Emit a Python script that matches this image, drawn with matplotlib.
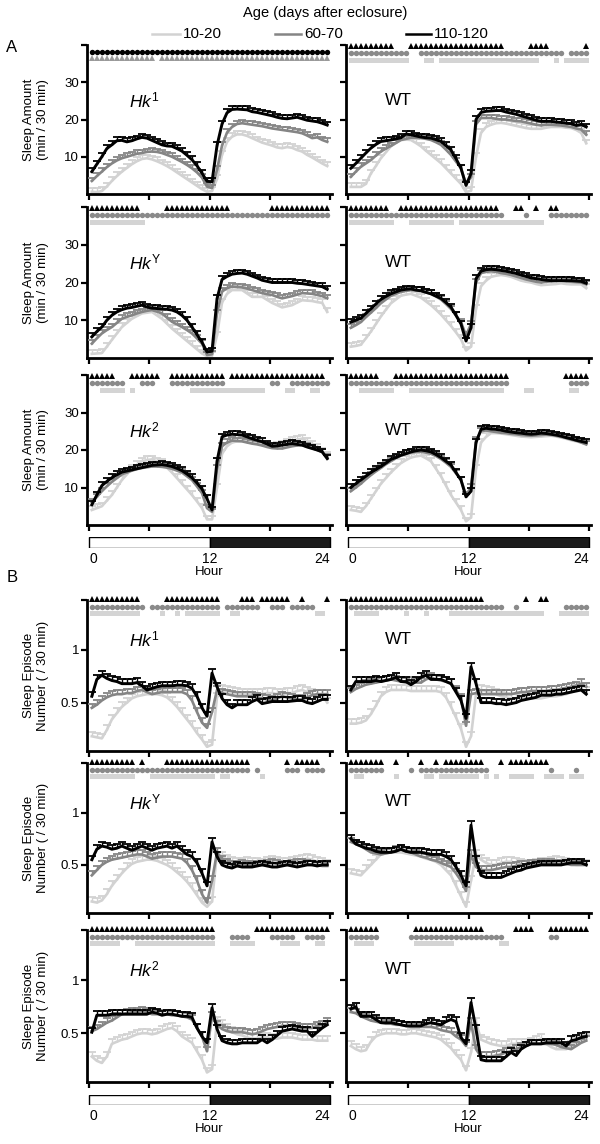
import numpy as np
import matplotlib.pyplot as plt
from matplotlib.lines import Line2D

plt.rcParams['font.family'] = ['Liberation Sans', 'DejaVu Sans']
plt.rcParams['mathtext.fontset'] = 'custom'
plt.rcParams['mathtext.rm'] = 'Liberation Sans'
plt.rcParams['mathtext.it'] = 'Liberation Sans:italic'

# 30 min bins over the 24 h day
hours = np.arange(48) * 0.5 + 0.25
ages = ['10-20', '60-70', '110-120']
age_colors = ['#d2d2d2', '#858585', '#000000']

# ---------------- A: sleep amount (min / 30 min) ----------------
a_hk1_young = [0.6, 0.5, 0.8, 2.0, 3.5, 4.8, 6.0, 7.0, 8.0, 8.8, 9.4, 9.6, 9.3, 8.8, 8.2, 7.5,
               6.7, 5.8, 4.9, 4.0, 3.1, 2.2, 1.3, 0.6, 0.8, 4.0, 10.5, 14.0, 15.4, 16.0, 16.0, 15.6,
               15.0, 14.4, 13.8, 13.4, 13.0, 12.5, 12.3, 12.6, 12.4, 11.8, 11.4, 10.5, 9.8, 9.0, 8.2, 7.5]
a_hk1_mid = [3.5, 4.8, 6.0, 7.2, 8.2, 9.0, 9.6, 10.0, 10.4, 10.8, 11.0, 11.3, 11.4, 11.3, 11.0, 10.5,
             10.0, 9.3, 8.6, 7.8, 6.9, 5.8, 4.4, 2.0, 1.6, 6.5, 13.0, 16.5, 18.0, 18.8, 19.0, 18.8,
             18.6, 18.4, 18.2, 17.9, 17.6, 17.4, 17.2, 17.0, 16.8, 16.6, 16.3, 15.7, 15.0, 15.2, 14.5, 14.0]
a_hk1_old = [6.0, 8.0, 10.0, 12.2, 13.2, 14.3, 14.4, 14.0, 14.3, 14.8, 15.2, 15.0, 14.4, 13.8, 13.2, 12.9,
             12.8, 12.2, 11.5, 10.4, 9.2, 7.6, 5.6, 3.4, 3.3, 13.0, 18.8, 21.8, 22.7, 22.8, 22.7, 22.6,
             22.1, 21.9, 21.6, 21.3, 21.0, 20.6, 20.3, 20.2, 20.4, 20.6, 20.2, 19.8, 19.6, 19.4, 19.0, 18.5]

a_wt1_young = [1.9, 1.9, 1.9, 2.7, 5.5, 7.5, 9.6, 11.2, 12.8, 13.7, 14.5, 14.6, 14.5, 13.7, 12.8, 11.6,
               10.5, 9.4, 8.3, 6.9, 5.5, 4.1, 2.7, 0.5, 0.9, 10.0, 16.4, 18.0, 18.6, 19.0, 19.1, 18.9,
               18.6, 18.3, 18.0, 17.7, 17.5, 17.5, 17.5, 17.8, 18.0, 18.0, 18.0, 17.8, 17.7, 17.2, 16.4, 13.6]
a_wt1_mid = [4.6, 6.0, 7.3, 8.2, 9.1, 10.3, 11.4, 12.2, 12.9, 13.7, 14.5, 14.8, 15.1, 15.1, 15.0, 14.8,
             14.5, 13.9, 13.2, 11.9, 10.5, 8.7, 6.9, 2.7, 4.5, 18.7, 20.4, 20.4, 20.4, 20.2, 20.0, 20.0,
             19.8, 19.6, 19.5, 19.2, 18.9, 18.6, 18.4, 18.6, 18.6, 18.5, 18.4, 18.2, 18.0, 17.6, 17.3, 15.9]
a_wt1_old = [6.9, 8.2, 9.6, 11.0, 12.3, 13.3, 14.1, 14.3, 14.5, 14.8, 15.1, 16.1, 15.9, 15.6, 15.3, 15.1,
             15.0, 14.6, 14.1, 13.0, 11.8, 9.5, 6.9, 2.3, 5.5, 20.0, 21.9, 22.2, 22.3, 22.4, 22.4, 22.0,
             21.7, 21.4, 21.0, 20.6, 20.2, 19.8, 19.5, 19.5, 19.5, 19.3, 19.2, 19.0, 18.9, 18.4, 18.7, 18.0]

a_hky_young = [1.1, 1.2, 1.3, 3.0, 4.8, 6.5, 8.2, 9.3, 10.4, 11.1, 11.8, 12.0, 12.2, 11.3, 10.4, 9.1,
               7.8, 6.7, 5.6, 4.5, 3.4, 2.3, 1.2, 0.5, 0.6, 6.0, 14.7, 17.0, 18.0, 18.0, 18.0, 17.1,
               16.2, 16.2, 16.2, 15.4, 14.6, 14.0, 13.4, 13.7, 14.0, 14.7, 15.3, 15.2, 15.1, 14.8, 14.6, 12.2]
a_hky_mid = [3.8, 5.2, 6.5, 7.4, 8.2, 9.3, 10.4, 10.9, 11.3, 11.8, 12.2, 12.5, 12.7, 12.3, 11.8, 10.7,
             9.6, 8.9, 8.2, 7.4, 6.5, 5.2, 3.8, 0.8, 1.0, 11.8, 17.6, 18.5, 18.9, 18.8, 18.7, 18.4,
             18.0, 17.6, 17.2, 16.9, 16.7, 16.2, 15.8, 16.1, 16.4, 16.8, 17.2, 17.1, 17.0, 16.7, 16.4, 15.8]
a_hky_old = [5.6, 7.0, 8.2, 10.0, 11.3, 12.2, 12.8, 13.2, 13.4, 13.7, 14.0, 13.5, 13.2, 13.1, 13.0, 12.9,
             12.7, 12.2, 11.3, 10.0, 8.2, 6.2, 4.2, 1.6, 1.8, 15.7, 20.8, 21.6, 22.2, 22.4, 22.5, 22.2,
             21.7, 21.2, 20.6, 20.3, 20.0, 20.0, 20.0, 20.0, 20.0, 19.8, 19.7, 19.5, 19.3, 19.1, 18.9, 18.2]

a_wt2_young = [3.0, 3.2, 3.5, 5.2, 7.0, 9.0, 11.0, 12.8, 14.5, 15.5, 16.5, 16.8, 17.0, 16.5, 16.0, 15.0,
               14.0, 12.8, 11.5, 10.0, 8.5, 6.8, 5.0, 2.0, 3.0, 13.0, 19.0, 20.5, 21.5, 21.8, 22.0, 21.8,
               21.5, 21.0, 20.5, 20.2, 20.0, 19.6, 19.3, 19.4, 19.5, 19.6, 19.8, 19.6, 19.5, 19.5, 19.5, 18.5]
a_wt2_mid = [8.0, 8.7, 9.5, 10.8, 12.0, 13.2, 14.5, 15.5, 16.5, 17.0, 17.5, 17.8, 18.0, 17.9, 17.8, 17.4,
             17.0, 16.3, 15.5, 14.3, 13.0, 11.3, 9.5, 6.0, 9.0, 20.0, 22.5, 22.8, 23.0, 22.8, 22.5, 22.3,
             22.0, 21.6, 21.2, 20.8, 20.5, 20.2, 20.0, 20.2, 20.3, 20.4, 20.5, 20.3, 20.2, 20.1, 20.0, 19.5]
a_wt2_old = [9.5, 10.0, 10.5, 11.8, 13.0, 14.3, 15.5, 16.3, 17.0, 17.5, 18.0, 18.2, 18.3, 18.0, 17.8, 17.4,
             17.0, 16.4, 15.8, 14.7, 13.5, 11.3, 9.0, 4.5, 8.0, 21.0, 23.0, 23.4, 23.5, 23.4, 23.2, 23.0,
             22.7, 22.4, 22.0, 21.6, 21.2, 21.0, 20.8, 20.6, 20.5, 20.5, 20.5, 20.5, 20.5, 20.4, 20.3, 19.8]

a_hk2_young = [4.0, 4.5, 5.0, 6.5, 8.0, 10.0, 12.0, 13.5, 15.0, 16.0, 17.0, 17.3, 17.5, 17.0, 16.5, 15.3,
               14.0, 12.5, 11.0, 9.5, 8.0, 6.3, 4.5, 1.5, 1.5, 10.0, 19.0, 21.0, 22.0, 22.3, 22.5, 22.3,
               22.0, 21.8, 21.5, 21.2, 21.0, 21.2, 21.5, 22.0, 22.5, 22.8, 23.0, 22.3, 21.5, 20.5, 19.5, 18.5]
a_hk2_mid = [6.0, 7.5, 9.0, 10.3, 11.5, 12.5, 13.5, 14.0, 14.5, 14.9, 15.2, 15.4, 15.6, 15.6, 15.5, 15.3,
             15.0, 14.5, 14.0, 13.0, 12.0, 10.3, 8.5, 4.5, 3.5, 15.0, 21.0, 22.0, 22.5, 22.4, 22.3, 22.0,
             21.7, 21.5, 21.2, 20.8, 20.5, 20.4, 20.4, 20.7, 21.0, 21.2, 21.3, 20.9, 20.5, 20.0, 19.5, 18.0]
a_hk2_old = [5.4, 8.0, 10.5, 11.6, 12.6, 13.4, 14.1, 14.4, 14.7, 15.0, 15.3, 15.6, 15.9, 16.0, 16.1, 15.9,
             15.6, 15.1, 14.5, 13.6, 12.6, 11.2, 9.6, 7.0, 4.0, 17.0, 23.5, 24.0, 24.2, 24.1, 24.0, 23.5,
             23.0, 22.6, 22.2, 21.6, 21.0, 21.1, 21.3, 21.5, 21.7, 21.5, 21.3, 20.8, 20.4, 20.0, 19.5, 17.7]

a_wt3_young = [4.0, 3.8, 3.5, 5.0, 7.0, 9.0, 11.0, 12.5, 14.0, 15.3, 16.5, 17.3, 18.0, 18.3, 18.5, 17.8,
               17.0, 15.0, 13.0, 10.5, 8.0, 6.0, 4.0, 1.0, 2.0, 15.0, 22.0, 23.5, 24.5, 24.5, 24.4, 24.2,
               24.0, 23.8, 23.6, 23.5, 23.4, 23.5, 23.6, 23.7, 23.8, 23.6, 23.3, 23.0, 22.6, 22.3, 22.0, 21.5]
a_wt3_mid = [9.0, 10.0, 11.0, 12.2, 13.3, 14.3, 15.2, 16.2, 17.0, 17.8, 18.5, 19.0, 19.3, 19.5, 19.5, 19.3,
             19.0, 18.4, 17.6, 16.6, 15.5, 13.8, 12.0, 8.0, 10.0, 22.5, 25.0, 25.2, 25.0, 24.8, 24.6, 24.5,
             24.3, 24.2, 24.0, 23.9, 23.8, 23.9, 24.0, 24.1, 24.0, 23.8, 23.5, 23.2, 22.8, 22.5, 22.0, 21.5]
a_wt3_old = [10.0, 11.0, 12.0, 13.0, 14.0, 14.8, 15.6, 16.5, 17.5, 18.0, 18.6, 19.0, 19.5, 19.8, 20.0, 19.8,
             19.5, 18.8, 18.0, 17.0, 16.0, 14.0, 12.0, 7.5, 9.0, 22.0, 25.5, 25.8, 25.6, 25.5, 25.3, 25.0,
             24.8, 24.6, 24.5, 24.3, 24.2, 24.3, 24.5, 24.4, 24.2, 24.0, 23.7, 23.3, 23.0, 22.6, 22.3, 22.0]

# ---------------- B: sleep episode number (/ 30 min) ----------------
b_hk1_young = [0.18, 0.17, 0.16, 0.24, 0.34, 0.40, 0.46, 0.50, 0.54, 0.56, 0.57, 0.58, 0.58, 0.58, 0.57, 0.55,
               0.51, 0.46, 0.40, 0.34, 0.28, 0.21, 0.15, 0.08, 0.10, 0.55, 0.62, 0.61, 0.60, 0.59, 0.58, 0.58,
               0.58, 0.58, 0.58, 0.59, 0.59, 0.58, 0.58, 0.59, 0.59, 0.61, 0.62, 0.60, 0.58, 0.57, 0.57, 0.50]
b_hk1_mid = [0.45, 0.48, 0.52, 0.55, 0.57, 0.58, 0.58, 0.59, 0.59, 0.61, 0.62, 0.60, 0.58, 0.59, 0.60, 0.60,
             0.60, 0.60, 0.60, 0.58, 0.52, 0.41, 0.31, 0.26, 0.41, 0.62, 0.59, 0.58, 0.57, 0.56, 0.56, 0.56,
             0.56, 0.55, 0.54, 0.53, 0.52, 0.54, 0.56, 0.55, 0.54, 0.53, 0.53, 0.55, 0.57, 0.58, 0.58, 0.58]
b_hk1_old = [0.56, 0.72, 0.76, 0.73, 0.71, 0.70, 0.68, 0.68, 0.68, 0.69, 0.66, 0.62, 0.635, 0.65, 0.66, 0.66,
             0.66, 0.665, 0.665, 0.66, 0.635, 0.56, 0.45, 0.37, 0.78, 0.65, 0.54, 0.48, 0.45, 0.48, 0.48, 0.48,
             0.51, 0.53, 0.49, 0.50, 0.51, 0.51, 0.51, 0.51, 0.515, 0.52, 0.52, 0.50, 0.49, 0.51, 0.53, 0.53]

b_wt1_young = [0.30, 0.30, 0.31, 0.33, 0.39, 0.47, 0.56, 0.60, 0.62, 0.62, 0.62, 0.62, 0.61, 0.61, 0.61, 0.61,
               0.61, 0.61, 0.60, 0.55, 0.46, 0.36, 0.25, 0.08, 0.18, 0.58, 0.62, 0.61, 0.60, 0.58, 0.56, 0.55,
               0.54, 0.54, 0.55, 0.55, 0.54, 0.54, 0.54, 0.55, 0.56, 0.56, 0.57, 0.58, 0.60, 0.62, 0.63, 0.60]
b_wt1_mid = [0.60, 0.63, 0.65, 0.67, 0.68, 0.69, 0.70, 0.71, 0.72, 0.71, 0.70, 0.69, 0.70, 0.69, 0.69, 0.72,
             0.74, 0.72, 0.71, 0.70, 0.68, 0.62, 0.54, 0.28, 0.58, 0.59, 0.58, 0.58, 0.58, 0.58, 0.58, 0.58,
             0.58, 0.59, 0.60, 0.60, 0.61, 0.61, 0.61, 0.61, 0.62, 0.62, 0.63, 0.64, 0.65, 0.66, 0.68, 0.65]
b_wt1_old = [0.62, 0.70, 0.70, 0.70, 0.70, 0.71, 0.70, 0.71, 0.72, 0.74, 0.70, 0.70, 0.67, 0.70, 0.74, 0.76,
             0.72, 0.72, 0.72, 0.70, 0.68, 0.60, 0.52, 0.35, 0.84, 0.68, 0.50, 0.50, 0.50, 0.49, 0.49, 0.48,
             0.49, 0.50, 0.52, 0.53, 0.54, 0.55, 0.57, 0.57, 0.57, 0.58, 0.58, 0.59, 0.60, 0.61, 0.62, 0.58]

b_hky_young = [0.15, 0.14, 0.16, 0.22, 0.30, 0.36, 0.42, 0.47, 0.51, 0.53, 0.54, 0.55, 0.55, 0.54, 0.52, 0.50,
               0.47, 0.43, 0.39, 0.34, 0.28, 0.21, 0.14, 0.10, 0.15, 0.62, 0.58, 0.55, 0.53, 0.52, 0.52, 0.53,
               0.52, 0.52, 0.51, 0.53, 0.54, 0.53, 0.52, 0.52, 0.53, 0.54, 0.55, 0.56, 0.55, 0.53, 0.52, 0.50]
b_hky_mid = [0.40, 0.45, 0.50, 0.53, 0.55, 0.56, 0.57, 0.58, 0.59, 0.60, 0.60, 0.58, 0.56, 0.57, 0.58, 0.58,
             0.58, 0.57, 0.56, 0.52, 0.45, 0.35, 0.22, 0.14, 0.35, 0.62, 0.55, 0.52, 0.50, 0.50, 0.51, 0.50,
             0.50, 0.50, 0.50, 0.51, 0.52, 0.51, 0.50, 0.50, 0.51, 0.52, 0.52, 0.51, 0.50, 0.50, 0.49, 0.49]
b_hky_old = [0.55, 0.65, 0.68, 0.67, 0.65, 0.66, 0.68, 0.66, 0.64, 0.66, 0.68, 0.66, 0.64, 0.66, 0.67, 0.68,
             0.66, 0.68, 0.64, 0.60, 0.58, 0.52, 0.42, 0.30, 0.72, 0.58, 0.50, 0.48, 0.47, 0.49, 0.48, 0.48,
             0.48, 0.49, 0.50, 0.49, 0.48, 0.48, 0.49, 0.50, 0.49, 0.48, 0.49, 0.50, 0.50, 0.49, 0.50, 0.50]

b_wt2_young = [0.42, 0.41, 0.40, 0.45, 0.50, 0.55, 0.60, 0.61, 0.62, 0.62, 0.62, 0.61, 0.60, 0.59, 0.58, 0.56,
               0.55, 0.53, 0.50, 0.45, 0.40, 0.30, 0.20, 0.10, 0.35, 0.60, 0.55, 0.52, 0.50, 0.50, 0.52, 0.53,
               0.53, 0.52, 0.51, 0.50, 0.50, 0.51, 0.52, 0.52, 0.53, 0.54, 0.53, 0.52, 0.51, 0.50, 0.50, 0.50]
b_wt2_mid = [0.72, 0.70, 0.68, 0.65, 0.62, 0.61, 0.60, 0.61, 0.62, 0.64, 0.65, 0.63, 0.62, 0.60, 0.58, 0.57,
             0.55, 0.54, 0.52, 0.50, 0.48, 0.42, 0.35, 0.25, 0.60, 0.48, 0.45, 0.45, 0.45, 0.46, 0.47, 0.48,
             0.48, 0.49, 0.50, 0.50, 0.51, 0.51, 0.52, 0.52, 0.52, 0.51, 0.51, 0.51, 0.50, 0.50, 0.50, 0.50]
b_wt2_old = [0.75, 0.70, 0.68, 0.66, 0.65, 0.63, 0.62, 0.62, 0.62, 0.63, 0.65, 0.63, 0.62, 0.62, 0.62, 0.61,
             0.60, 0.60, 0.60, 0.58, 0.55, 0.48, 0.40, 0.30, 0.88, 0.55, 0.40, 0.38, 0.38, 0.38, 0.38, 0.40,
             0.42, 0.44, 0.45, 0.47, 0.48, 0.49, 0.50, 0.50, 0.50, 0.50, 0.50, 0.51, 0.52, 0.52, 0.52, 0.50]

b_hk2_young = [0.28, 0.24, 0.22, 0.28, 0.40, 0.42, 0.44, 0.45, 0.47, 0.49, 0.50, 0.50, 0.49, 0.50, 0.52, 0.54,
               0.55, 0.52, 0.47, 0.44, 0.41, 0.33, 0.25, 0.13, 0.16, 0.61, 0.58, 0.54, 0.51, 0.49, 0.48, 0.46,
               0.45, 0.45, 0.46, 0.46, 0.45, 0.45, 0.46, 0.46, 0.46, 0.45, 0.44, 0.44, 0.44, 0.43, 0.43, 0.43]
b_hk2_mid = [0.52, 0.54, 0.57, 0.60, 0.62, 0.65, 0.68, 0.69, 0.70, 0.70, 0.71, 0.70, 0.68, 0.68, 0.68, 0.68,
             0.67, 0.67, 0.66, 0.65, 0.63, 0.55, 0.47, 0.33, 0.66, 0.58, 0.54, 0.52, 0.51, 0.51, 0.51, 0.50,
             0.49, 0.50, 0.52, 0.54, 0.55, 0.56, 0.57, 0.57, 0.57, 0.56, 0.55, 0.55, 0.55, 0.57, 0.58, 0.60]
b_hk2_old = [0.51, 0.67, 0.67, 0.67, 0.68, 0.68, 0.68, 0.68, 0.68, 0.68, 0.68, 0.68, 0.70, 0.69, 0.67, 0.68,
             0.68, 0.67, 0.66, 0.66, 0.65, 0.55, 0.47, 0.41, 0.74, 0.54, 0.43, 0.41, 0.40, 0.40, 0.41, 0.41,
             0.41, 0.41, 0.44, 0.41, 0.44, 0.48, 0.52, 0.53, 0.54, 0.53, 0.52, 0.52, 0.47, 0.51, 0.55, 0.58]

b_wt3_young = [0.38, 0.35, 0.33, 0.34, 0.42, 0.47, 0.49, 0.50, 0.50, 0.50, 0.49, 0.49, 0.50, 0.50, 0.49, 0.48,
               0.47, 0.46, 0.44, 0.40, 0.36, 0.30, 0.25, 0.15, 0.32, 0.60, 0.44, 0.42, 0.40, 0.39, 0.38, 0.38,
               0.40, 0.40, 0.40, 0.40, 0.41, 0.43, 0.45, 0.40, 0.37, 0.35, 0.35, 0.35, 0.38, 0.42, 0.44, 0.45]
b_wt3_mid = [0.70, 0.69, 0.66, 0.64, 0.62, 0.61, 0.60, 0.59, 0.59, 0.58, 0.58, 0.57, 0.56, 0.56, 0.56, 0.56,
             0.56, 0.55, 0.53, 0.52, 0.51, 0.47, 0.44, 0.38, 0.60, 0.35, 0.28, 0.28, 0.28, 0.29, 0.30, 0.32,
             0.33, 0.35, 0.37, 0.38, 0.40, 0.40, 0.40, 0.40, 0.40, 0.39, 0.37, 0.36, 0.35, 0.38, 0.41, 0.43]
b_wt3_old = [0.73, 0.75, 0.66, 0.66, 0.66, 0.63, 0.60, 0.60, 0.60, 0.59, 0.58, 0.57, 0.57, 0.57, 0.57, 0.59,
             0.60, 0.59, 0.58, 0.61, 0.63, 0.61, 0.46, 0.40, 0.79, 0.54, 0.25, 0.24, 0.24, 0.24, 0.24, 0.28,
             0.32, 0.29, 0.35, 0.38, 0.40, 0.40, 0.40, 0.41, 0.41, 0.41, 0.41, 0.38, 0.43, 0.44, 0.46, 0.47]

# SEM used for the upward error caps (young, mid, old)
sem_a = [1.0, 0.9, 0.9]
sem_b = [0.045, 0.04, 0.04]

# significant bins (index ranges, inclusive) shown as marker rows above each panel
sig_a_hk1 = [None, ('dotk', [(0, 47)]), ('trig', [(0, 12), (14, 47)])]
sig_a_wt1 = [('tri', [(0, 8), (12, 30), (36, 39), (47, 47)]),
             ('dot', [(0, 11), (14, 42), (44, 47)]),
             ('sq', [(0, 11), (15, 16), (18, 37), (41, 41), (43, 47)])]
sig_a_hky = [('tri', [(0, 9), (15, 27), (36, 47)]),
             ('dot', [(0, 47)]),
             ('sq', [(0, 10)])]
sig_a_wt2 = [('tri', [(0, 7), (10, 29), (33, 34), (37, 37), (40, 41)]),
             ('dot', [(0, 30), (35, 35), (40, 47)]),
             ('sq', [(0, 8), (12, 20), (22, 38)])]
sig_a_hk2 = [('tri', [(0, 4), (8, 13), (16, 26), (28, 46)]),
             ('dot', [(0, 6), (10, 12), (16, 26), (36, 37), (40, 47)]),
             ('sq', [(2, 6), (8, 8), (20, 34), (39, 40), (44, 45)])]
sig_a_wt3 = [('tri', [(0, 5), (9, 31), (43, 47)]),
             ('dot', [(0, 31), (44, 47)]),
             ('sq', [(2, 8), (12, 30), (35, 36), (44, 45)])]
sig_b_hk1 = [('tri', [(0, 9), (15, 25), (30, 32), (34, 39), (42, 42), (47, 47)]),
             ('dot', [(0, 10), (12, 25), (27, 33), (36, 38), (40, 44)]),
             ('sq', [(0, 6), (7, 9), (14, 14), (17, 17), (19, 25), (28, 29), (45, 46)])]
sig_b_wt1 = [('tri', [(0, 26), (35, 35), (38, 39)]),
             ('dot', [(0, 30), (33, 33), (43, 47)]),
             ('sq', [(1, 5), (11, 11), (15, 15), (20, 38), (42, 47)])]
sig_b_hky = [('tri', [(0, 8), (10, 10), (15, 25), (26, 31), (39, 39), (41, 45)]),
             ('dot', [(0, 31), (33, 33), (39, 41), (43, 46)]),
             ('sq', [(0, 8), (12, 24), (26, 27), (34, 34)])]
sig_b_wt2 = [('tri', [(0, 6), (9, 9), (14, 14), (17, 17), (19, 25), (26, 26), (30, 30), (32, 39)]),
             ('dot', [(0, 6), (12, 12), (14, 27), (40, 40), (45, 45)]),
             ('sq', [(1, 2), (9, 9), (15, 16), (18, 25), (27, 27), (29, 29), (32, 35), (36, 36), (39, 42), (44, 46)])]
sig_b_hk2 = [('tri', [(0, 24), (33, 47)]),
             ('dot', [(0, 24), (28, 31), (36, 40), (43, 46)]),
             ('sq', [(0, 5), (9, 24), (28, 32), (38, 41), (45, 46)])]
sig_b_wt3 = [('tri', [(0, 5), (13, 26), (33, 36), (40, 47)]),
             ('dot', [(0, 5), (12, 30), (40, 41)]),
             ('sq', [(1, 4), (13, 20), (30, 31)])]

mark_style = {'tri': ('^', '#000000'), 'dot': ('o', '#8a8a8a'), 'sq': ('s', '#d4d4d4'),
              'dotk': ('o', '#000000'), 'trig': ('^', '#9a9a9a')}


def mask(ranges):
    m = np.zeros(48, bool)
    for a, b in ranges:
        m[a:b + 1] = True
    return m


W, H = 600, 1144
fig = plt.figure(figsize=(W / 100, H / 100), dpi=100)

# panel rows in pixels (top, bottom) and column left edges
rows_px = [(45, 194), (207, 358), (375, 525), (600, 751), (763, 913), (930, 1082)]
cols_px = [87.3, 346.3]
ax_w = 244.4

panels = [
    (0, 0, 'a', r'$\mathit{Hk}^{\mathrm{1}}$', [a_hk1_young, a_hk1_mid, a_hk1_old], sig_a_hk1),
    (0, 1, 'a', 'WT', [a_wt1_young, a_wt1_mid, a_wt1_old], sig_a_wt1),
    (1, 0, 'a', r'$\mathit{Hk}^{\mathrm{Y}}$', [a_hky_young, a_hky_mid, a_hky_old], sig_a_hky),
    (1, 1, 'a', 'WT', [a_wt2_young, a_wt2_mid, a_wt2_old], sig_a_wt2),
    (2, 0, 'a', r'$\mathit{Hk}^{\mathrm{2}}$', [a_hk2_young, a_hk2_mid, a_hk2_old], sig_a_hk2),
    (2, 1, 'a', 'WT', [a_wt3_young, a_wt3_mid, a_wt3_old], sig_a_wt3),
    (3, 0, 'b', r'$\mathit{Hk}^{\mathrm{1}}$', [b_hk1_young, b_hk1_mid, b_hk1_old], sig_b_hk1),
    (3, 1, 'b', 'WT', [b_wt1_young, b_wt1_mid, b_wt1_old], sig_b_wt1),
    (4, 0, 'b', r'$\mathit{Hk}^{\mathrm{Y}}$', [b_hky_young, b_hky_mid, b_hky_old], sig_b_hky),
    (4, 1, 'b', 'WT', [b_wt2_young, b_wt2_mid, b_wt2_old], sig_b_wt2),
    (5, 0, 'b', r'$\mathit{Hk}^{\mathrm{2}}$', [b_hk2_young, b_hk2_mid, b_hk2_old], sig_b_hk2),
    (5, 1, 'b', 'WT', [b_wt3_young, b_wt3_mid, b_wt3_old], sig_b_wt3),
]

for r, c, kind, name, series, sig in panels:
    top, bot = rows_px[r]
    ax = fig.add_axes([cols_px[c] / W, 1 - bot / H, ax_w / W, (bot - top) / H])
    sem = sem_a if kind == 'a' else sem_b
    for vals, col, e, z, lw in zip(series, age_colors, sem, [2, 3, 4], [1.9, 1.9, 2.1]):
        y = np.array(vals)
        # mean line plus upward-only error bar with a cap
        ax.plot(hours, y, color=col, lw=lw, zorder=z, solid_joinstyle='round')
        ax.vlines(hours, y, y + e, color=col, lw=1, zorder=z)
        ax.plot(hours, y + e, ls='none', marker='_', ms=6, mew=1.3, color=col, zorder=z)
    ax.set_xlim(-0.2, 24.2)
    ax.set_xticks([0, 6, 12, 18, 24])
    ax.set_xticklabels([])
    if kind == 'a':
        ax.set_ylim(0, 40)
        ax.set_yticks([10, 20, 30, 40])
        ylabs = ['10', '20', '30', '']
        slots = [0.993, 0.947, 0.90] if r > 0 or c > 0 else [0.993, 0.955, 0.913]
        ylab = 'Sleep Amount\n(min / 30 min)'
    else:
        ax.set_ylim(0.04, 1.475)
        ax.set_yticks([0.5, 1, 1.475])
        ylabs = ['0.5', '1', '']
        slots = [1.007, 0.953, 0.913]
        ylab = 'Sleep Episode\nNumber ( / 30 min)'
    ax.set_yticklabels(ylabs if c == 0 else [], fontsize=9.5)
    if c == 0:
        ax.set_ylabel(ylab, fontsize=9.5, linespacing=1.15)
        ax.yaxis.set_label_coords(-0.158, 0.5)
    for s in ['top', 'right']:
        ax.spines[s].set_visible(False)
    for s in ['left', 'bottom']:
        ax.spines[s].set_linewidth(2)
    ax.tick_params(direction='out', length=4, width=1.6, pad=2)

    # significance marker rows
    trans = ax.get_xaxis_transform()
    for slot, entry in zip(slots, sig):
        if entry is None:
            continue
        key, ranges = entry
        mk, mc = mark_style[key]
        m = mask(ranges)
        ms = 3.6 if mk == 's' else 3.9
        ax.plot(hours[m], np.full(m.sum(), slot), ls='none', marker=mk, color=mc,
                ms=ms, mew=0, transform=trans, clip_on=False, zorder=5)

    # genotype label
    ypos = 0.63 if kind == 'a' else 0.74
    xpos = 0.16 if name == 'WT' else 0.17
    ax.text(xpos, ypos, name, transform=ax.transAxes, fontsize=12.5, va='center')

    # light/dark bar and hour axis below the bottom panel of each section
    if r in (2, 5):
        bar_top = bot + 12.5
        bax = fig.add_axes([cols_px[c] / W, 1 - (bar_top + 10.5) / H, ax_w / W, 10.5 / H])
        bax.barh(0, 12, left=0, height=1, color='white', edgecolor='black', lw=1)
        bax.barh(0, 12, left=12, height=1, color='#1c1c1c', edgecolor='black', lw=1)
        bax.set_xlim(-0.2, 24.2)
        bax.set_ylim(-0.5, 0.5)
        bax.set_yticks([])
        bax.set_xticks([0, 12, 24])
        bax.set_xticklabels(['0', '12', '24'], fontsize=10)
        labs = bax.get_xticklabels()
        labs[0].set_ha('left')
        labs[2].set_ha('right')
        bax.tick_params(length=0, pad=3)
        for s in bax.spines.values():
            s.set_visible(False)
        bax.set_xlabel('Hour', fontsize=9.5, labelpad=0)

# section letters
fig.text(12 / W, 1 - 47 / H, 'A', fontsize=12, ha='center', va='center')
fig.text(12 / W, 1 - 577 / H, 'B', fontsize=12, ha='center', va='center')

# legend across the top
fig.text(325 / W, 1 - 13 / H, 'Age (days after eclosure)', fontsize=10.5, ha='center', va='center')
leg_x = [(152, 180), (275, 301), (406, 431)]
for (x0, x1), lab, col in zip(leg_x, ages, age_colors):
    y = 1 - 34 / H
    fig.add_artist(Line2D([x0 / W, x1 / W], [y, y], color=col, lw=1.8, transform=fig.transFigure))
    fig.text((x1 + 3) / W, y, lab, fontsize=11, ha='left', va='center')

fig.savefig('out.png', dpi=100)
